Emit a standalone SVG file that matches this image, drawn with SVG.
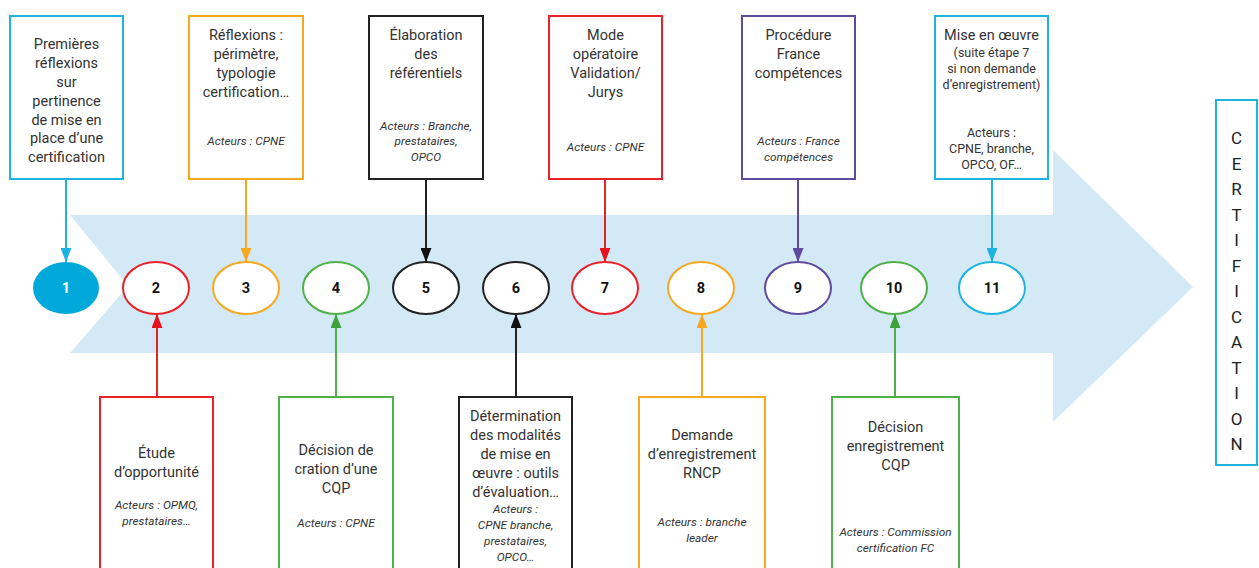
<svg xmlns="http://www.w3.org/2000/svg" width="1259" height="568" viewBox="0 0 1259 568">
<style>
.box{fill:#fff;stroke-width:2}
.t{font-family:Roboto,"Liberation Sans",sans-serif;font-size:14.5px;fill:#333;text-anchor:middle;dominant-baseline:central}
.i{font-family:Roboto,"Liberation Sans",sans-serif;font-size:11.8px;font-style:italic;fill:#333;text-anchor:middle;dominant-baseline:central}
.s{font-family:Roboto,"Liberation Sans",sans-serif;font-size:12.5px;fill:#333;text-anchor:middle;dominant-baseline:central}
.n{font-family:Roboto,"Liberation Sans",sans-serif;font-size:14.5px;font-weight:bold;fill:#111;text-anchor:middle;dominant-baseline:central}
.c{font-family:Roboto,"Liberation Sans",sans-serif;font-size:17px;fill:#222;text-anchor:middle;dominant-baseline:central}
.el{fill:#fff;stroke-width:2}
.ln{fill:none;stroke-width:2}
.cy{stroke:#1fb3e0}.or{stroke:#f6a81e}.bk{stroke:#222}.rd{stroke:#e8222b}.pu{stroke:#5e4b9f}.gr{stroke:#4fb04a}
</style>
<defs>
<marker id="m-cy" viewBox="0 0 14 11" refX="14" refY="5.5" markerWidth="14" markerHeight="11" markerUnits="userSpaceOnUse" orient="auto"><path d="M0,0 L14,5.5 L0,11 z" fill="#1fb3e0"/></marker>
<marker id="m-or" viewBox="0 0 14 11" refX="14" refY="5.5" markerWidth="14" markerHeight="11" markerUnits="userSpaceOnUse" orient="auto"><path d="M0,0 L14,5.5 L0,11 z" fill="#f6a81e"/></marker>
<marker id="m-bk" viewBox="0 0 14 11" refX="14" refY="5.5" markerWidth="14" markerHeight="11" markerUnits="userSpaceOnUse" orient="auto"><path d="M0,0 L14,5.5 L0,11 z" fill="#111"/></marker>
<marker id="m-rd" viewBox="0 0 14 11" refX="14" refY="5.5" markerWidth="14" markerHeight="11" markerUnits="userSpaceOnUse" orient="auto"><path d="M0,0 L14,5.5 L0,11 z" fill="#e3141e"/></marker>
<marker id="m-pu" viewBox="0 0 14 11" refX="14" refY="5.5" markerWidth="14" markerHeight="11" markerUnits="userSpaceOnUse" orient="auto"><path d="M0,0 L14,5.5 L0,11 z" fill="#5e4b9f"/></marker>
<marker id="m-gr" viewBox="0 0 14 11" refX="14" refY="5.5" markerWidth="14" markerHeight="11" markerUnits="userSpaceOnUse" orient="auto"><path d="M0,0 L14,5.5 L0,11 z" fill="#3da33a"/></marker>
</defs>

<path id="big-arrow" d="M70,215 L1053,215 L1053,150 L1193,287 L1053,422 L1053,353 L70,353 L128,286 Z" fill="#d3eaf6"/>

<g id="connectors">
<line class="ln cy" x1="66" y1="179" x2="66" y2="262" marker-end="url(#m-cy)"/>
<line class="ln or" x1="246" y1="179" x2="246" y2="262" marker-end="url(#m-or)"/>
<line class="ln bk" x1="426" y1="179" x2="426" y2="262" marker-end="url(#m-bk)"/>
<line class="ln rd" x1="605" y1="179" x2="605" y2="262" marker-end="url(#m-rd)"/>
<line class="ln pu" x1="798" y1="179" x2="798" y2="262" marker-end="url(#m-pu)"/>
<line class="ln cy" x1="992" y1="179" x2="992" y2="262" marker-end="url(#m-cy)"/>
<line class="ln rd" x1="157" y1="397" x2="157" y2="314" marker-end="url(#m-rd)"/>
<line class="ln gr" x1="336" y1="397" x2="336" y2="314" marker-end="url(#m-gr)"/>
<line class="ln bk" x1="516" y1="397" x2="516" y2="314" marker-end="url(#m-bk)"/>
<line class="ln or" x1="702" y1="397" x2="702" y2="314" marker-end="url(#m-or)"/>
<line class="ln gr" x1="895" y1="397" x2="895" y2="314" marker-end="url(#m-gr)"/>
</g>

<g id="step1"><ellipse cx="66" cy="288" rx="33" ry="26" fill="#00a9da"/><text class="n" x="66" y="288" style="fill:#fff">1</text></g>
<g id="step2"><ellipse class="el rd" cx="156" cy="288" rx="33" ry="26"/><text class="n" x="156" y="288">2</text></g>
<g id="step3"><ellipse class="el or" cx="246" cy="288" rx="33" ry="26"/><text class="n" x="246" y="288">3</text></g>
<g id="step4"><ellipse class="el gr" cx="336" cy="288" rx="33" ry="26"/><text class="n" x="336" y="288">4</text></g>
<g id="step5"><ellipse class="el bk" cx="426" cy="288" rx="33" ry="26"/><text class="n" x="426" y="288">5</text></g>
<g id="step6"><ellipse class="el bk" cx="516" cy="288" rx="33" ry="26"/><text class="n" x="516" y="288">6</text></g>
<g id="step7"><ellipse class="el rd" cx="605" cy="288" rx="33" ry="26"/><text class="n" x="605" y="288">7</text></g>
<g id="step8"><ellipse class="el or" cx="701" cy="288" rx="33" ry="26"/><text class="n" x="701" y="288">8</text></g>
<g id="step9"><ellipse class="el pu" cx="798" cy="288" rx="33" ry="26"/><text class="n" x="798" y="288">9</text></g>
<g id="step10"><ellipse class="el gr" cx="894" cy="288" rx="33" ry="26"/><text class="n" x="894" y="288">10</text></g>
<g id="step11"><ellipse class="el cy" cx="992" cy="288" rx="33" ry="26"/><text class="n" x="992" y="288">11</text></g>

<g id="box1"><rect class="box cy" x="10" y="16" width="113" height="163"/>
<text class="t" x="66.5" y="44">Premières</text><text class="t" x="66.5" y="63">réflexions</text><text class="t" x="66.5" y="82">sur</text><text class="t" x="66.5" y="101">pertinence</text><text class="t" x="66.5" y="120">de mise en</text><text class="t" x="66.5" y="138">place d’une</text><text class="t" x="66.5" y="157">certification</text></g>

<g id="box3"><rect class="box or" x="189" y="16" width="114" height="163"/>
<text class="t" x="246" y="35">Réflexions :</text><text class="t" x="246" y="54">périmètre,</text><text class="t" x="246" y="73">typologie</text><text class="t" x="246" y="92">certification…</text><text class="i" x="246" y="141">Acteurs : CPNE</text></g>

<g id="box5"><rect class="box bk" x="369" y="16" width="114" height="163"/>
<text class="t" x="426" y="35">Élaboration</text><text class="t" x="426" y="54">des</text><text class="t" x="426" y="73">référentiels</text><text class="i" x="426" y="126">Acteurs : Branche,</text><text class="i" x="426" y="141">prestataires,</text><text class="i" x="426" y="157">OPCO</text></g>

<g id="box7"><rect class="box rd" x="549" y="16" width="113" height="163"/>
<text class="t" x="605.5" y="35">Mode</text><text class="t" x="605.5" y="54">opératoire</text><text class="t" x="605.5" y="73">Validation/</text><text class="t" x="605.5" y="92">Jurys</text><text class="i" x="605.5" y="147">Acteurs : CPNE</text></g>

<g id="box9"><rect class="box pu" x="742" y="16" width="113" height="163"/>
<text class="t" x="798.5" y="35">Procédure</text><text class="t" x="798.5" y="54">France</text><text class="t" x="798.5" y="73">compétences</text><text class="i" x="798.5" y="141">Acteurs : France</text><text class="i" x="798.5" y="157">compétences</text></g>

<g id="box11"><rect class="box cy" x="935" y="16" width="113" height="163"/>
<text class="t" x="991.5" y="35">Mise en œuvre</text><text class="s" x="991.5" y="52">(suite étape 7</text><text class="s" x="991.5" y="68">si non demande</text><text class="s" x="991.5" y="84">d’enregistrement)</text><text class="s" x="991.5" y="132">Acteurs :</text><text class="s" x="991.5" y="148">CPNE, branche,</text><text class="s" x="991.5" y="164">OPCO, OF…</text></g>

<g id="box2"><rect class="box rd" x="100" y="397" width="113" height="180"/>
<text class="t" x="156.5" y="453">Étude</text><text class="t" x="156.5" y="472">d’opportunité</text><text class="i" x="156.5" y="505">Acteurs : OPMQ,</text><text class="i" x="156.5" y="521">prestataires…</text></g>

<g id="box4"><rect class="box gr" x="279" y="397" width="114" height="180"/>
<text class="t" x="336" y="450">Décision de</text><text class="t" x="336" y="469">cration d’une</text><text class="t" x="336" y="488">CQP</text><text class="i" x="336" y="523">Acteurs : CPNE</text></g>

<g id="box6"><rect class="box bk" x="459" y="397" width="113" height="180"/>
<text class="t" x="515.5" y="416">Détermination</text><text class="t" x="515.5" y="435">des modalités</text><text class="t" x="515.5" y="454">de mise en</text><text class="t" x="515.5" y="473">œuvre : outils</text><text class="t" x="515.5" y="492">d’évaluation…</text><text class="i" x="515.5" y="509">Acteurs :</text><text class="i" x="515.5" y="525">CPNE branche,</text><text class="i" x="515.5" y="541">prestataires,</text><text class="i" x="515.5" y="557">OPCO…</text></g>

<g id="box8"><rect class="box or" x="639" y="397" width="126" height="180"/>
<text class="t" x="702" y="435">Demande</text><text class="t" x="702" y="454">d’enregistrement</text><text class="t" x="702" y="473">RNCP</text><text class="i" x="702" y="522">Acteurs : branche</text><text class="i" x="702" y="538">leader</text></g>

<g id="box10"><rect class="box gr" x="832" y="397" width="127" height="180"/>
<text class="t" x="895.5" y="427">Décision</text><text class="t" x="895.5" y="446">enregistrement</text><text class="t" x="895.5" y="465">CQP</text><text class="i" x="895.5" y="532">Acteurs : Commission</text><text class="i" x="895.5" y="548">certification FC</text></g>

<g id="certification"><rect class="box cy" x="1216" y="100" width="41" height="365"/>
<text class="c" x="1236.5" y="138">C</text><text class="c" x="1236.5" y="163.5">E</text><text class="c" x="1236.5" y="189">R</text><text class="c" x="1236.5" y="214.5">T</text><text class="c" x="1236.5" y="240">I</text><text class="c" x="1236.5" y="265.5">F</text><text class="c" x="1236.5" y="291">I</text><text class="c" x="1236.5" y="316.5">C</text><text class="c" x="1236.5" y="342">A</text><text class="c" x="1236.5" y="367.5">T</text><text class="c" x="1236.5" y="393">I</text><text class="c" x="1236.5" y="418.5">O</text><text class="c" x="1236.5" y="444">N</text></g>
</svg>
